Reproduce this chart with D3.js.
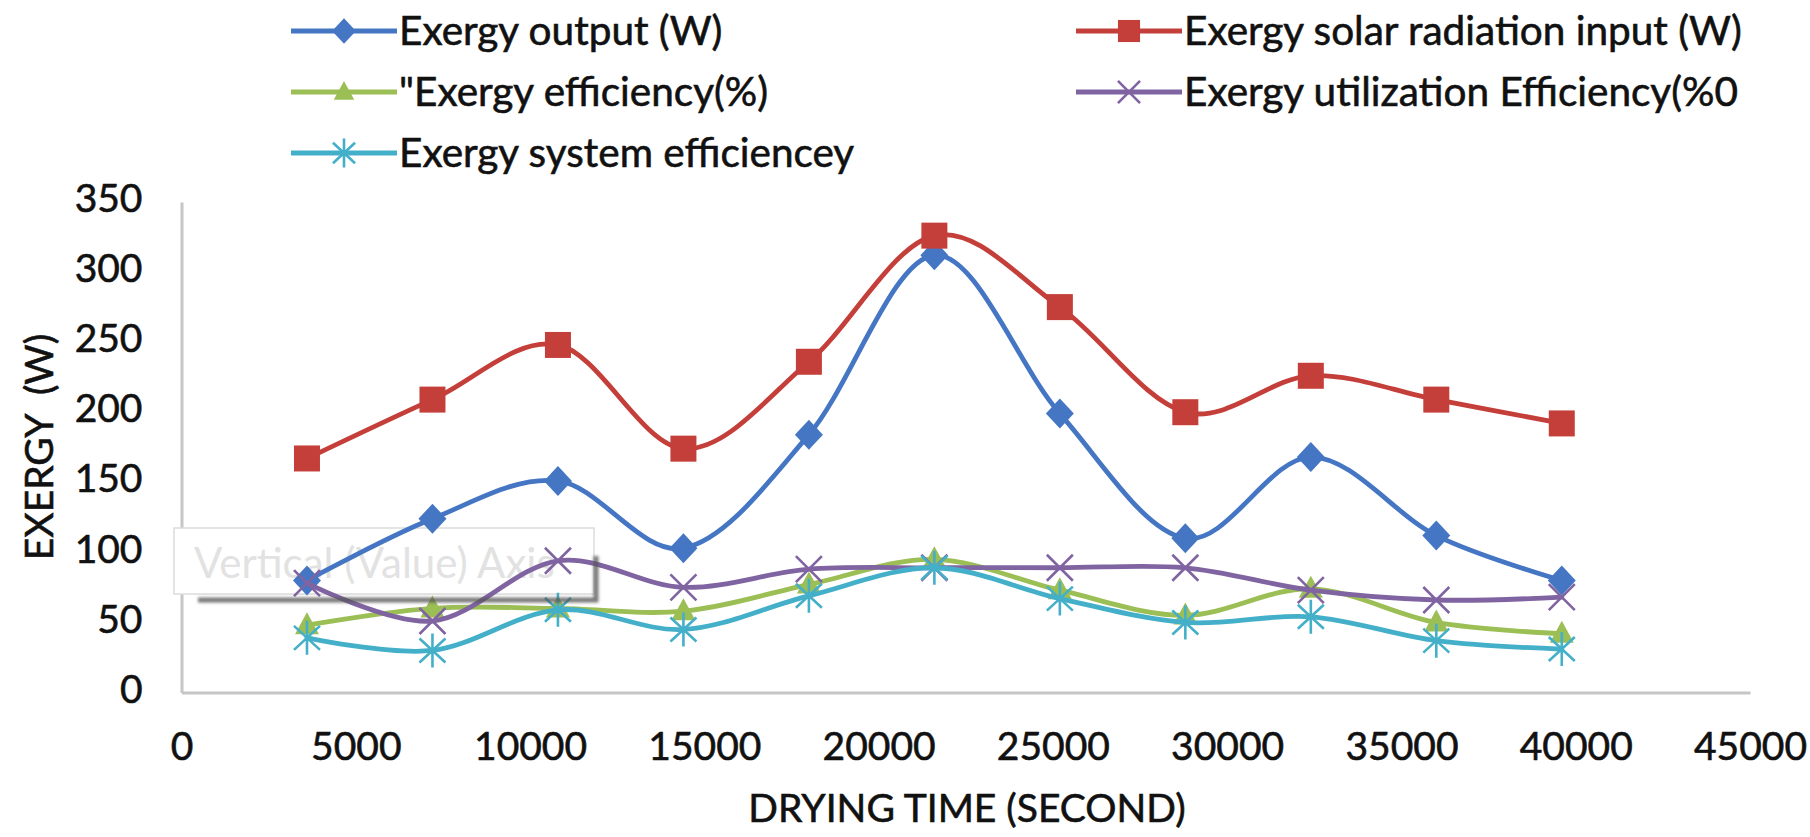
<!DOCTYPE html>
<html>
<head>
<meta charset="utf-8">
<script src="https://cdn.jsdelivr.net/npm/d3@7/dist/d3.min.js"></script>
<style>
  html, body { margin: 0; padding: 0; background: #ffffff; }
  svg { display: block; }
  text { font-family: Lato, "Open Sans", sans-serif; fill: #111; white-space: pre; }
  .ink { stroke: #111; stroke-width: 0.6px; }
</style>
</head>
<body>
<svg id="chart" width="1810" height="837"></svg>
<script>
// Drying time (s) at each hourly reading
const dryingTime = [3600, 7200, 10800, 14400, 18000, 21600, 25200, 28800, 32400, 36000, 39600];

// Series values
const exergyOutput      = [80, 124, 151, 103, 184, 312, 199, 110, 168, 112, 80];
const exergySolarInput  = [167, 209, 248, 174, 236, 326, 275, 200, 226, 209, 192];
const exergyEfficiency  = [48, 60, 60, 58, 77, 95, 73, 55, 74, 50, 42];
const exergyUtilization = [78, 51, 94, 75, 88, 89, 89, 89, 73, 66, 68];
const exergySystemEff   = [39, 30, 59, 45, 69, 89, 67, 50, 54, 37, 31];

const seriesNames = [
  "Exergy output (W)",
  "Exergy solar radiation input (W)",
  "\"Exergy efficiency(%)",
  "Exergy utilization Efficiency(%0",
  "Exergy system efficiencey"
];

// Axis ticks
const xTicks = [0, 5000, 10000, 15000, 20000, 25000, 30000, 35000, 40000, 45000];
const yTicks = [0, 50, 100, 150, 200, 250, 300, 350];

const xTitle = "DRYING TIME (SECOND)";
const yTitle = "EXERGY  (W)";
const hintText = "Vertical (Value) Axis";

// ---- styling ----
const seriesStyle = [
  { color: "#4576C4", marker: "diamond" },
  { color: "#C53F3A", marker: "square" },
  { color: "#9BBE55", marker: "triangle" },
  { color: "#8064A2", marker: "x" },
  { color: "#44AFC9", marker: "star" }
];
const seriesValues = [exergyOutput, exergySolarInput, exergyEfficiency, exergyUtilization, exergySystemEff];
const series = seriesNames.map((name, i) => ({
  name,
  color: seriesStyle[i].color,
  marker: seriesStyle[i].marker,
  points: dryingTime.map((t, j) => ({ t, v: seriesValues[i][j] }))
}));

const svg = d3.select("#chart");
const FONT = 39;
const LEGEND_FONT = 40.5;

const x = d3.scaleLinear().domain([0, 45000]).range([181.5, 1750]);
const y = d3.scaleLinear().domain([0, 350]).range([692.5, 202]);

// ---- axes ----
const gx = svg.append("g")
  .attr("transform", `translate(0,${y(0)})`)
  .call(d3.axisBottom(x).tickValues(xTicks).tickSize(0).tickSizeOuter(0).tickFormat(d3.format("d")));
gx.attr("font-size", null).attr("font-family", null);
gx.select(".domain").attr("stroke", "#c6c6c6").attr("stroke-width", 3);
gx.selectAll(".tick text")
  .attr("class", "ink")
  .attr("y", 54).attr("dy", "0.35em")
  .style("font-size", FONT + "px").style("fill", "#111");

const gy = svg.append("g")
  .attr("transform", `translate(${x(0)},0)`)
  .call(d3.axisLeft(y).tickValues(yTicks).tickSize(0).tickSizeOuter(0).tickPadding(39));
gy.attr("font-size", null).attr("font-family", null);
gy.select(".domain").attr("stroke", "#c6c6c6").attr("stroke-width", 3);
gy.selectAll(".tick text")
  .attr("class", "ink")
  .attr("y", -4).attr("dy", "0.35em")
  .style("font-size", FONT + "px").style("fill", "#111");

// axis titles
svg.append("text")
  .attr("class", "ink")
  .attr("x", 967).attr("y", 808).attr("dy", "0.35em")
  .attr("text-anchor", "middle")
  .style("font-size", FONT + "px")
  .text(xTitle);

svg.append("text")
  .attr("class", "ink")
  .attr("transform", "translate(39,447) rotate(-90)")
  .attr("dy", "0.35em")
  .attr("text-anchor", "middle")
  .style("font-size", FONT + "px")
  .text(yTitle);

// ---- floating axis hint box ----
const defs = svg.append("defs");
defs.append("filter").attr("id", "soft").attr("x", "-20%").attr("y", "-50%").attr("width", "140%").attr("height", "200%")
  .append("feGaussianBlur").attr("stdDeviation", 1.6);

const hint = svg.append("g");
hint.append("rect")
  .attr("x", 174).attr("y", 528).attr("width", 420).attr("height", 66)
  .attr("fill", "#ffffff").attr("stroke", "#dcdcdc").attr("stroke-width", 1.5);
hint.append("text")
  .attr("x", 194).attr("y", 563).attr("dy", "0.35em")
  .style("font-size", "42px").style("fill", "#e2e2e2")
  .text(hintText);

// ---- lines and markers ----
const line = d3.line()
  .x(d => x(d.t))
  .y(d => y(d.v))
  .curve(d3.curveCatmullRom.alpha(0));

function drawMarker(g, type, color, s = 1) {
  switch (type) {
    case "diamond":
      g.append("path").attr("d", `M0,${-15 * s}L${14 * s},0L0,${15 * s}L${-14 * s},0Z`).attr("fill", color);
      break;
    case "square":
      g.append("rect").attr("x", -13 * s).attr("y", -13 * s).attr("width", 26 * s).attr("height", 26 * s).attr("fill", color);
      break;
    case "triangle":
      g.append("path").attr("d", `M0,${-13 * s}L${12 * s},${9 * s}L${-12 * s},${9 * s}Z`).attr("fill", color);
      break;
    case "x":
      g.append("path").attr("d", `M${-13 * s},${-13 * s}L${13 * s},${13 * s}M${-13 * s},${13 * s}L${13 * s},${-13 * s}`)
        .attr("stroke", color).attr("stroke-width", 2.6).attr("fill", "none");
      break;
    case "star":
      g.append("path").attr("d", `M${-13 * s},${-12 * s}L${13 * s},${12 * s}M${-13 * s},${12 * s}L${13 * s},${-12 * s}M0,${-17 * s}L0,${17 * s}`)
        .attr("stroke", color).attr("stroke-width", 2.6).attr("fill", "none");
      break;
  }
}

series.forEach(s => {
  const g = svg.append("g");
  g.append("path")
    .datum(s.points)
    .attr("d", line)
    .attr("fill", "none")
    .attr("stroke", s.color)
    .attr("stroke-width", 4.8)
    .attr("stroke-linejoin", "round")
    .attr("stroke-linecap", "round");
  g.selectAll("g.m")
    .data(s.points)
    .join("g")
    .attr("class", "m")
    .attr("transform", d => `translate(${x(d.t)},${y(d.v)})`)
    .each(function () { drawMarker(d3.select(this), s.marker, s.color); });
});

// shadow of the hint box
svg.append("path")
  .attr("d", "M198,600H596V556")
  .attr("fill", "none")
  .attr("stroke", "#555")
  .attr("stroke-opacity", 0.8)
  .attr("stroke-width", 5)
  .attr("filter", "url(#soft)");

// ---- legend ----
const legendCols = [291, 1076];
const legendRows = [31, 92, 153];
const legend = svg.append("g");
series.forEach((s, i) => {
  const lx = legendCols[i % 2];
  const ly = legendRows[Math.floor(i / 2)];
  const item = legend.append("g").attr("transform", `translate(${lx},${ly})`);
  item.append("line")
    .attr("x1", 0).attr("x2", 106).attr("y1", 0).attr("y2", 0)
    .attr("stroke", s.color).attr("stroke-width", 5);
  const mk = item.append("g").attr("transform", "translate(53,0)");
  drawMarker(mk, s.marker, s.color, 0.85);
  item.append("text")
    .attr("class", "ink")
    .attr("x", 108).attr("y", 0).attr("dy", "0.35em")
    .style("font-size", LEGEND_FONT + "px")
    .text(s.name);
});
</script>
</body>
</html>
